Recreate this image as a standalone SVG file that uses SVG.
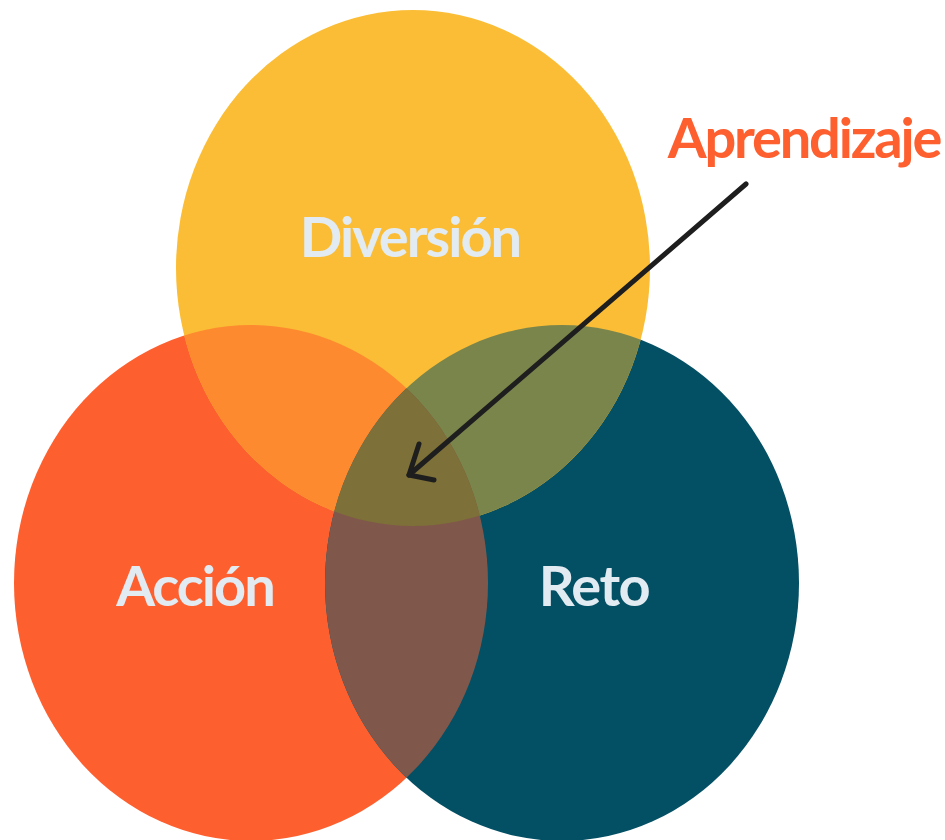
<svg xmlns="http://www.w3.org/2000/svg" width="945" height="840" viewBox="0 0 945 840">
<style>
.lbl{font-family:Lato,"Open Sans","Liberation Sans",sans-serif;font-weight:700;fill:#E2EBF1;text-anchor:middle;letter-spacing:-2px}
.conn{fill:none;stroke:#1E1E1E;stroke-width:5;stroke-linecap:round;stroke-linejoin:round}
</style>
<defs>
<ellipse id="eY" cx="413" cy="268" rx="237" ry="258"/>
<ellipse id="eO" cx="251" cy="583" rx="237" ry="258"/>
<ellipse id="eT" cx="562" cy="583" rx="237" ry="258"/>
<clipPath id="cO"><use href="#eO"/></clipPath>
<clipPath id="cT"><use href="#eT"/></clipPath>
<clipPath id="cY"><use href="#eY"/></clipPath>
</defs>
<rect width="945" height="840" fill="#fff"/>
<g id="accion">
<use href="#eO" fill="#FE5F2F"/>
</g>
<g id="reto">
<use href="#eT" fill="#034F64"/>
</g>
<g id="diversion">
<use href="#eY" fill="#FBBD35"/>
</g>
<g id="overlaps">
<use href="#eY" fill="#FE8A2F" clip-path="url(#cO)"/>
<use href="#eY" fill="#7A854C" clip-path="url(#cT)"/>
<use href="#eO" fill="#80584B" clip-path="url(#cT)"/>
<g clip-path="url(#cO)"><use href="#eY" fill="#7D7038" clip-path="url(#cT)"/></g>
</g>
<g id="labels">
<text class="lbl" x="410" y="257" font-size="56">Diversión</text>
<text class="lbl" x="195" y="606" font-size="56">Acción</text>
<text class="lbl" x="594" y="606" font-size="56" style="letter-spacing:-1.5px">Reto</text>
</g>
<g id="aprendizaje">
<text x="804" y="158" font-family="Lato,'Open Sans','Liberation Sans',sans-serif" font-weight="700" font-size="56" fill="#FE5F2F" text-anchor="middle" letter-spacing="-2.2">Aprendizaje</text>
</g>
<g id="connectors">
<path class="conn" d="M746,184 L409,475"/>
<path class="conn" d="M419,444 L409,475 L434,480"/>
</g>
</svg>
